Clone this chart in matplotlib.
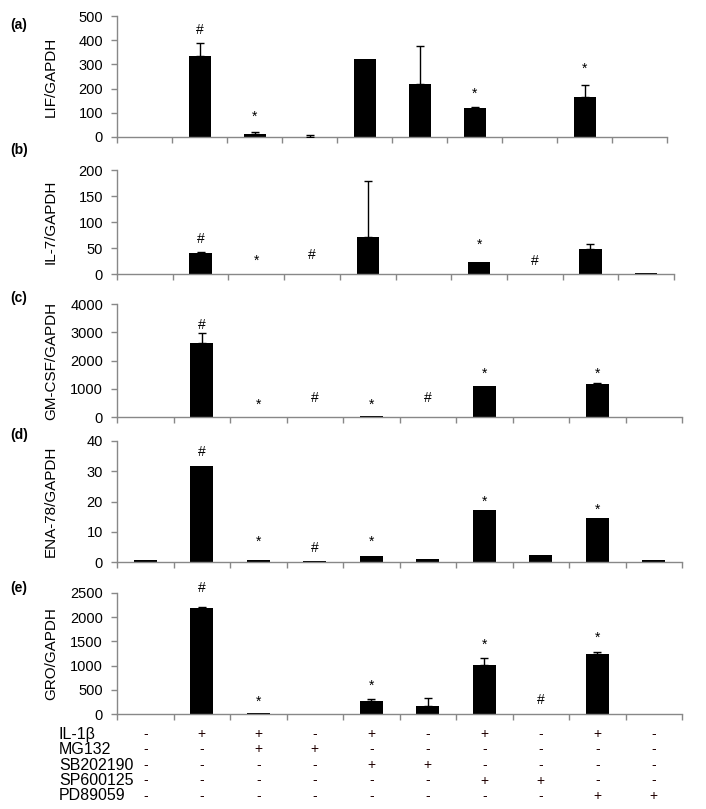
import matplotlib
matplotlib.use("Agg")
import matplotlib.pyplot as plt
import matplotlib.transforms as mtransforms
import numpy as np

plt.rcParams['font.family'] = ['Liberation Sans', 'DejaVu Sans']

# treatment conditions (columns)
treatments = ['IL-1β', 'MG132', 'SB202190', 'SP600125', 'PD89059']
signs = [
    ['-', '+', '+', '-', '+', '-', '+', '-', '+', '-'],
    ['-', '-', '+', '+', '-', '-', '-', '-', '-', '-'],
    ['-', '-', '-', '-', '+', '+', '-', '-', '-', '-'],
    ['-', '-', '-', '-', '-', '-', '+', '+', '-', '-'],
    ['-', '-', '-', '-', '-', '-', '-', '-', '+', '+'],
]

# (a) LIF
lif = [0, 335, 12, 1, 322, 219, 120, 0, 167, 0]
lif_err = [0, 53, 8, 7, 0, 157, 4, 0, 48, 0]
lif_marks = ['', '#', '*', '', '', '', '*', '', '*', '']
lif_mark_y = [0, 442, 83, 0, 0, 0, 179, 0, 283, 0]

# (b) IL-7
il7 = [0, 40, 0, 0, 71, 0, 23, 0, 48, 1]
il7_err = [0, 3, 0, 0, 108, 0, 0, 0, 10, 0]
il7_marks = ['', '#', '*', '#', '', '', '*', '#', '', '']
il7_mark_y = [0, 67, 25, 37, 0, 0, 56, 25, 0, 0]

# (c) GM-CSF
gmcsf = [0, 2620, 0, 0, 30, 0, 1100, 0, 1170, 0]
gmcsf_err = [0, 350, 0, 0, 0, 0, 0, 0, 30, 0]
gmcsf_marks = ['', '#', '*', '#', '*', '#', '*', '', '*', '']
gmcsf_mark_y = [0, 3257, 425, 673, 425, 673, 1522, 0, 1522, 0]

# (d) ENA-78
ena78 = [0.7, 31.8, 0.7, 0.4, 2.0, 1.1, 17.3, 2.4, 14.7, 0.7]
ena78_err = [0] * 10
ena78_marks = ['', '#', '*', '#', '*', '', '*', '', '*', '']
ena78_mark_y = [0, 36.4, 6.6, 4.6, 6.6, 0, 19.8, 0, 17.2, 0]

# (e) GRO
gro = [0, 2180, 20, 0, 270, 170, 1020, 0, 1230, 0]
gro_err = [0, 30, 0, 0, 40, 160, 140, 0, 60, 0]
gro_marks = ['', '#', '*', '', '*', '', '*', '#', '*', '']
gro_mark_y = [0, 2600, 250, 0, 580, 0, 1425, 290, 1570, 0]

panels = [
    ('(a)', 'LIF/GAPDH', lif, lif_err, lif_marks, lif_mark_y, 500, 100),
    ('(b)', 'IL-7/GAPDH', il7, il7_err, il7_marks, il7_mark_y, 200, 50),
    ('(c)', 'GM-CSF/GAPDH', gmcsf, gmcsf_err, gmcsf_marks, gmcsf_mark_y, 4000, 1000),
    ('(d)', 'ENA-78/GAPDH', ena78, ena78_err, ena78_marks, ena78_mark_y, 40, 10),
    ('(e)', 'GRO/GAPDH', gro, gro_err, gro_marks, gro_mark_y, 2500, 500),
]

W, H = 706, 809
fig = plt.figure(figsize=(W / 100, H / 100), dpi=100)

# axes boxes in pixels: left, right, top, bottom
boxes = [(117, 667, 16, 137), (117, 674, 170, 274), (117, 682, 304, 417),
         (117, 682, 441, 562), (117, 682, 593, 714)]
label_y = [25, 150, 298, 435, 588]

gray = '#888888'
x = np.arange(10)
axes = []
for (tag, ylab, vals, errs, marks, mark_y, ymax, step), (l, r, t, b), ly in zip(panels, boxes, label_y):
    ax = fig.add_axes([l / W, 1 - b / H, (r - l) / W, (b - t) / H])
    ax.bar(x, vals, width=0.4, color='black', linewidth=0, zorder=2)
    # only the bars that carry an error bar
    vals_a, errs_a = np.array(vals, dtype=float), np.array(errs, dtype=float)
    has_err = errs_a > 0
    if has_err.any():
        ax.errorbar(x[has_err], vals_a[has_err],
                    yerr=[np.zeros(has_err.sum()), errs_a[has_err]], fmt='none',
                    ecolor='black', elinewidth=1.0, capsize=3, capthick=1.0, zorder=3)
    for xi, m, my in zip(x, marks, mark_y):
        if m:
            ax.text(xi, my, m, ha='center', va='center', fontsize=10, clip_on=False)
    ax.set_xlim(-0.5, 9.5)
    ax.set_ylim(0, ymax)
    ax.set_yticks(np.arange(0, ymax + step / 2, step))
    ax.set_xticks(np.arange(-0.5, 10, 1))
    ax.set_xticklabels([])
    for s in ['top', 'right']:
        ax.spines[s].set_visible(False)
    for s in ['left', 'bottom']:
        ax.spines[s].set_color(gray)
        ax.spines[s].set_linewidth(1.0)
    ax.tick_params(axis='both', color=gray, length=4, width=1.0, labelsize=10.5, pad=6)
    ax.set_ylabel(ylab, fontsize=11)
    ax.yaxis.set_label_coords(-(117 - 58) / (r - l), 0.5)
    fig.text(10 / W, 1 - ly / H, tag, fontsize=10, fontweight='bold', va='center', ha='left')
    axes.append(ax)

# treatment table under the last panel
ax_e = axes[-1]
trans = mtransforms.blended_transform_factory(ax_e.transData, fig.transFigure)
row_y = [734, 749.5, 765, 780.5, 796]
for name, row, ry in zip(treatments, signs, row_y):
    fig.text(59 / W, 1 - ry / H, name, fontsize=11.5, ha='left', va='center')
    for xi, s in zip(x, row):
        ax_e.text(xi, 1 - ry / H, s, transform=trans, ha='center', va='center',
                  fontsize=10, color='#200000', clip_on=False)

fig.savefig('out.png', dpi=100)
